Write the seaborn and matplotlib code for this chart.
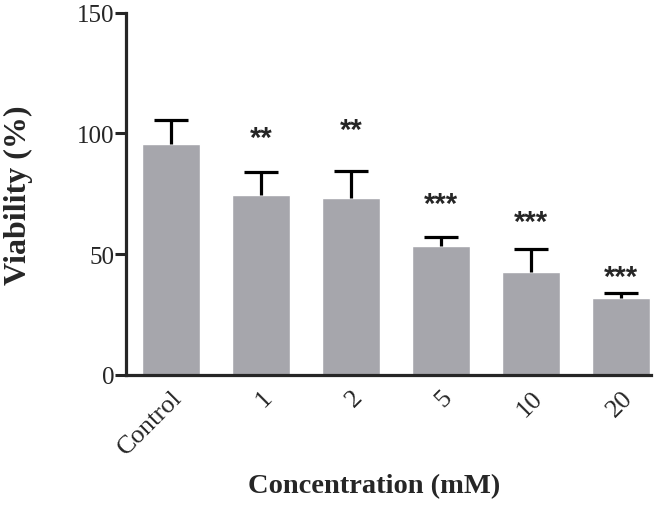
import matplotlib
matplotlib.use("Agg")
import matplotlib.pyplot as plt
import seaborn as sns
import pandas as pd

# values
groups = ["Control", "1", "2", "5", "10", "20"]
viability = [95.7, 74.6, 73.4, 53.5, 42.7, 31.9]
sd = [10.0, 9.5, 11.1, 3.7, 9.5, 2.1]
stars = ["", "**", "**", "***", "***", "***"]
star_y = [0, 99.5, 102.5, 72, 64.5, 42]

df = pd.DataFrame({"group": groups, "viability": viability, "sd": sd})
df["upper"] = df["viability"] + df["sd"]

sns.set_style("ticks")
plt.rcParams["font.family"] = ["Liberation Serif", "DejaVu Serif"]

fig = plt.figure(figsize=(6.69, 5.10), dpi=100)
ax = fig.add_axes([0.188, 0.263, 0.785, 0.71])

sns.barplot(data=df, x="group", y="viability", color="#a6a6ac", saturation=1,
            width=0.65, errorbar=None, ax=ax)

# upper-only error bars (no cap at the bar top)
xs = range(len(groups))
ax.vlines(xs, df["viability"], df["upper"], color="black", linewidth=2.3)
ax.hlines(df["upper"], [x - 0.19 for x in xs], [x + 0.19 for x in xs],
          color="black", linewidth=2.3)

for i, s in enumerate(stars):
    if s:
        ax.text(i, star_y[i], s, ha="center", va="center_baseline", fontsize=21,
                fontweight="bold", family=["Liberation Sans", "DejaVu Sans"])

ax.set_ylim(0, 150)
ax.set_xlim(-0.5, 5.33)
ax.set_yticks([0, 50, 100, 150])
ax.tick_params(axis="y", length=8, width=2.2, labelsize=18, pad=0)
ax.tick_params(axis="x", length=0, labelsize=19, pad=8)
plt.setp(ax.get_xticklabels(), rotation=45, ha="right", rotation_mode="anchor")
for side in ["left", "bottom"]:
    ax.spines[side].set_linewidth(2.3)
sns.despine(ax=ax)

ax.set_xlabel("Concentration (mM)", fontsize=20.5, fontweight="bold")
ax.xaxis.set_label_coords(0.472, -0.27)
ax.set_ylabel("Viability (%)", fontsize=23, fontweight="bold")
ax.yaxis.set_label_coords(-0.177, 0.5)

fig.savefig("out.png", dpi=100)
